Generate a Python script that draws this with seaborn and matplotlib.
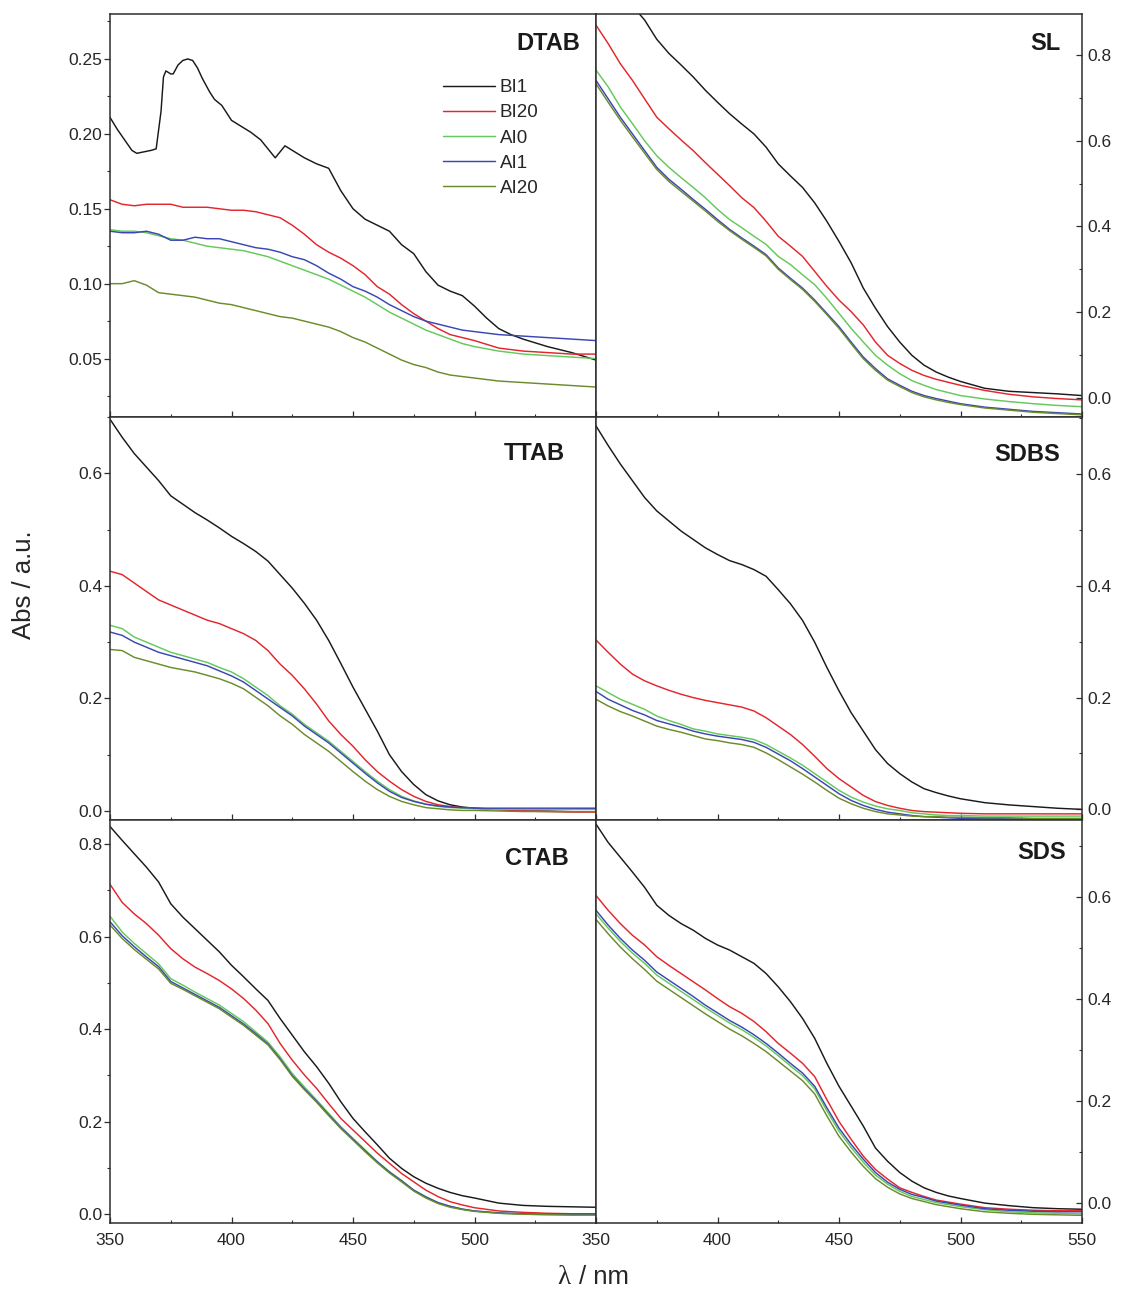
import matplotlib
matplotlib.use("Agg")
import matplotlib.pyplot as plt
from matplotlib.ticker import MultipleLocator
import seaborn as sns
import pandas as pd

# ---------------- data ----------------
WL = [350, 355, 360, 365, 370, 375, 380, 385, 390, 395, 400, 405, 410, 415, 420,
      425, 430, 435, 440, 445, 450, 455, 460, 465, 470, 475, 480, 485, 490, 495,
      500, 510, 520, 530, 540, 550]

SERIES = ["BI1", "BI20", "AI0", "AI1", "AI20"]
COLORS = ["#1a1a1a", "#e3262c", "#63c95a", "#3b46b4", "#6b8c2c"]

# DTAB (BI1 measured on a finer grid)
DTAB_BI1_WL = [350, 353, 356, 359, 361, 364, 367, 369, 371, 372, 373, 375, 376, 378, 380,
               382, 384, 386, 388, 391, 393, 396, 400, 404, 408, 412, 415, 418, 420, 422,
               425, 430, 435, 440, 445, 450, 455, 460, 465, 470, 475, 480, 485, 490, 495,
               500, 505, 510, 515, 520, 530, 540, 550]
DTAB_BI1 = [0.211, 0.203, 0.196, 0.189, 0.187, 0.188, 0.189, 0.190, 0.215, 0.238, 0.242,
            0.240, 0.240, 0.246, 0.249, 0.250, 0.249, 0.244, 0.237, 0.228, 0.223, 0.219,
            0.209, 0.205, 0.201, 0.196, 0.190, 0.184, 0.188, 0.192, 0.189, 0.184, 0.180,
            0.177, 0.162, 0.150, 0.143, 0.139, 0.135, 0.126, 0.120, 0.108, 0.099, 0.095,
            0.092, 0.085, 0.077, 0.070, 0.066, 0.063, 0.058, 0.054, 0.049]
DTAB_BI20 = [0.156, 0.153, 0.152, 0.153, 0.153, 0.153, 0.151, 0.151, 0.151, 0.150, 0.149,
             0.149, 0.148, 0.146, 0.144, 0.139, 0.133, 0.126, 0.121, 0.117, 0.112, 0.106,
             0.098, 0.093, 0.086, 0.080, 0.075, 0.070, 0.066, 0.064, 0.062, 0.057, 0.055,
             0.054, 0.053, 0.053]
DTAB_AI0 = [0.136, 0.135, 0.135, 0.134, 0.132, 0.130, 0.129, 0.127, 0.125, 0.124, 0.123,
            0.122, 0.120, 0.118, 0.115, 0.112, 0.109, 0.106, 0.103, 0.099, 0.095, 0.091,
            0.086, 0.081, 0.077, 0.073, 0.069, 0.066, 0.063, 0.060, 0.058, 0.055, 0.053,
            0.052, 0.051, 0.050]
DTAB_AI1 = [0.135, 0.134, 0.134, 0.135, 0.133, 0.129, 0.129, 0.131, 0.130, 0.130, 0.128,
            0.126, 0.124, 0.123, 0.121, 0.118, 0.116, 0.112, 0.107, 0.103, 0.098, 0.095,
            0.091, 0.086, 0.082, 0.078, 0.075, 0.073, 0.071, 0.069, 0.068, 0.066, 0.065,
            0.064, 0.063, 0.062]
DTAB_AI20 = [0.100, 0.100, 0.102, 0.099, 0.094, 0.093, 0.092, 0.091, 0.089, 0.087, 0.086,
             0.084, 0.082, 0.080, 0.078, 0.077, 0.075, 0.073, 0.071, 0.068, 0.064, 0.061,
             0.057, 0.053, 0.049, 0.046, 0.044, 0.041, 0.039, 0.038, 0.037, 0.035, 0.034,
             0.033, 0.032, 0.031]

SL_BI1 = [1.080, 1.020, 0.965, 0.915, 0.882, 0.837, 0.804, 0.777, 0.749, 0.718, 0.690,
          0.663, 0.639, 0.616, 0.585, 0.546, 0.518, 0.491, 0.455, 0.412, 0.365, 0.315,
          0.256, 0.209, 0.166, 0.130, 0.099, 0.076, 0.060, 0.048, 0.038, 0.022, 0.015,
          0.012, 0.009, 0.005]
SL_BI20 = [0.870, 0.827, 0.780, 0.741, 0.698, 0.655, 0.628, 0.602, 0.577, 0.549, 0.522,
           0.495, 0.467, 0.444, 0.412, 0.377, 0.354, 0.330, 0.295, 0.260, 0.228, 0.201,
           0.170, 0.130, 0.099, 0.080, 0.064, 0.052, 0.043, 0.036, 0.029, 0.017, 0.008,
           0.002, -0.002, -0.005]
SL_AI0 = [0.765, 0.726, 0.679, 0.640, 0.600, 0.565, 0.538, 0.514, 0.491, 0.467, 0.440,
          0.416, 0.397, 0.377, 0.358, 0.330, 0.311, 0.287, 0.264, 0.232, 0.197, 0.162,
          0.130, 0.099, 0.076, 0.056, 0.040, 0.029, 0.019, 0.012, 0.005, -0.003, -0.009,
          -0.014, -0.018, -0.021]
SL_AI1 = [0.741, 0.698, 0.655, 0.616, 0.577, 0.538, 0.510, 0.487, 0.463, 0.440, 0.416,
          0.393, 0.373, 0.354, 0.334, 0.303, 0.279, 0.256, 0.228, 0.197, 0.166, 0.130,
          0.095, 0.068, 0.044, 0.029, 0.015, 0.005, -0.002, -0.008, -0.014, -0.022, -0.027,
          -0.032, -0.035, -0.038]
SL_AI20 = [0.733, 0.690, 0.648, 0.609, 0.571, 0.533, 0.505, 0.482, 0.459, 0.436, 0.412,
           0.390, 0.370, 0.351, 0.331, 0.300, 0.276, 0.253, 0.225, 0.194, 0.162, 0.126,
           0.091, 0.064, 0.041, 0.026, 0.012, 0.002, -0.005, -0.011, -0.016, -0.024, -0.029,
           -0.034, -0.037, -0.040]

TTAB_BI1 = [0.696, 0.664, 0.635, 0.611, 0.587, 0.560, 0.545, 0.530, 0.517, 0.503, 0.488,
            0.475, 0.461, 0.444, 0.420, 0.396, 0.369, 0.339, 0.303, 0.262, 0.220, 0.181,
            0.142, 0.100, 0.070, 0.047, 0.029, 0.018, 0.011, 0.007, 0.005, 0.003, 0.002,
            0.002, 0.003, 0.004]
TTAB_BI20 = [0.426, 0.420, 0.405, 0.390, 0.375, 0.366, 0.357, 0.348, 0.339, 0.333, 0.324,
             0.315, 0.303, 0.285, 0.261, 0.241, 0.217, 0.190, 0.160, 0.136, 0.115, 0.091,
             0.070, 0.053, 0.038, 0.026, 0.017, 0.011, 0.008, 0.006, 0.005, 0.002, 0.000,
             -0.001, -0.002, -0.002]
TTAB_AI0 = [0.330, 0.324, 0.309, 0.300, 0.291, 0.282, 0.276, 0.270, 0.264, 0.255, 0.247,
            0.235, 0.220, 0.205, 0.187, 0.172, 0.154, 0.139, 0.124, 0.106, 0.088, 0.070,
            0.053, 0.038, 0.026, 0.018, 0.012, 0.008, 0.006, 0.005, 0.004, 0.003, 0.003,
            0.003, 0.003, 0.003]
TTAB_AI1 = [0.318, 0.312, 0.300, 0.291, 0.282, 0.276, 0.270, 0.264, 0.258, 0.249, 0.240,
            0.229, 0.214, 0.199, 0.184, 0.169, 0.151, 0.136, 0.121, 0.103, 0.085, 0.067,
            0.050, 0.035, 0.024, 0.017, 0.012, 0.009, 0.007, 0.006, 0.005, 0.005, 0.005,
            0.005, 0.005, 0.005]
TTAB_AI20 = [0.287, 0.285, 0.273, 0.267, 0.261, 0.255, 0.251, 0.247, 0.241, 0.235, 0.227,
             0.217, 0.202, 0.187, 0.169, 0.154, 0.136, 0.121, 0.106, 0.088, 0.070, 0.053,
             0.038, 0.026, 0.017, 0.011, 0.006, 0.004, 0.002, 0.001, 0.001, 0.000, -0.001,
             -0.001, -0.001, -0.001]

SDBS_BI1 = [0.686, 0.651, 0.618, 0.588, 0.558, 0.534, 0.516, 0.498, 0.483, 0.468, 0.456,
            0.445, 0.438, 0.429, 0.417, 0.393, 0.368, 0.338, 0.299, 0.254, 0.212, 0.173,
            0.140, 0.107, 0.082, 0.064, 0.049, 0.037, 0.030, 0.024, 0.019, 0.012, 0.008,
            0.005, 0.002, 0.000]
SDBS_BI20 = [0.303, 0.281, 0.260, 0.242, 0.230, 0.221, 0.213, 0.206, 0.200, 0.195, 0.191,
             0.187, 0.183, 0.176, 0.164, 0.149, 0.134, 0.116, 0.095, 0.073, 0.055, 0.040,
             0.025, 0.014, 0.007, 0.002, -0.002, -0.004, -0.005, -0.006, -0.007, -0.008,
             -0.008, -0.008, -0.008, -0.008]
SDBS_AI0 = [0.221, 0.209, 0.197, 0.188, 0.179, 0.167, 0.159, 0.152, 0.144, 0.140, 0.135,
            0.132, 0.129, 0.125, 0.116, 0.104, 0.092, 0.079, 0.064, 0.049, 0.034, 0.022,
            0.013, 0.006, 0.001, -0.002, -0.006, -0.008, -0.010, -0.011, -0.011, -0.012,
            -0.012, -0.012, -0.012, -0.012]
SDBS_AI1 = [0.211, 0.197, 0.187, 0.177, 0.169, 0.159, 0.153, 0.147, 0.140, 0.135, 0.131,
            0.128, 0.125, 0.120, 0.111, 0.099, 0.087, 0.073, 0.058, 0.043, 0.028, 0.016,
            0.007, 0.000, -0.005, -0.008, -0.011, -0.013, -0.014, -0.015, -0.016, -0.016,
            -0.017, -0.017, -0.017, -0.017]
SDBS_AI20 = [0.197, 0.185, 0.175, 0.167, 0.158, 0.149, 0.143, 0.138, 0.132, 0.126, 0.123,
             0.119, 0.116, 0.111, 0.101, 0.089, 0.076, 0.063, 0.049, 0.034, 0.020, 0.010,
             0.002, -0.004, -0.008, -0.010, -0.012, -0.013, -0.013, -0.014, -0.014, -0.015,
             -0.015, -0.016, -0.016, -0.016]

CTAB_BI1 = [0.838, 0.808, 0.779, 0.750, 0.718, 0.671, 0.642, 0.617, 0.592, 0.567, 0.538,
            0.513, 0.487, 0.462, 0.423, 0.387, 0.351, 0.319, 0.283, 0.243, 0.207, 0.178,
            0.150, 0.121, 0.099, 0.081, 0.067, 0.056, 0.047, 0.040, 0.035, 0.024, 0.019,
            0.017, 0.016, 0.015]
CTAB_BI20 = [0.713, 0.674, 0.649, 0.628, 0.603, 0.574, 0.552, 0.534, 0.520, 0.505, 0.487,
             0.466, 0.441, 0.412, 0.369, 0.333, 0.301, 0.272, 0.239, 0.207, 0.182, 0.157,
             0.132, 0.110, 0.088, 0.070, 0.052, 0.038, 0.027, 0.020, 0.014, 0.007, 0.004,
             0.002, 0.001, 0.001]
CTAB_AI0 = [0.644, 0.610, 0.585, 0.563, 0.541, 0.509, 0.495, 0.480, 0.466, 0.452, 0.434,
            0.416, 0.394, 0.372, 0.340, 0.304, 0.275, 0.247, 0.218, 0.189, 0.164, 0.139,
            0.114, 0.092, 0.073, 0.052, 0.038, 0.025, 0.017, 0.011, 0.007, 0.002, 0.000,
            -0.001, -0.001, -0.001]
CTAB_AI1 = [0.632, 0.602, 0.578, 0.556, 0.535, 0.503, 0.489, 0.475, 0.461, 0.447, 0.429,
            0.411, 0.390, 0.368, 0.336, 0.300, 0.271, 0.244, 0.215, 0.187, 0.162, 0.137,
            0.113, 0.091, 0.072, 0.052, 0.037, 0.025, 0.017, 0.011, 0.007, 0.003, 0.001,
            0.000, 0.000, 0.000]
CTAB_AI20 = [0.625, 0.596, 0.572, 0.551, 0.530, 0.499, 0.486, 0.472, 0.458, 0.444, 0.426,
             0.408, 0.387, 0.366, 0.334, 0.298, 0.269, 0.242, 0.213, 0.185, 0.160, 0.135,
             0.111, 0.089, 0.070, 0.050, 0.035, 0.023, 0.015, 0.010, 0.006, 0.002, 0.000,
             -0.001, -0.002, -0.002]

SDS_BI1 = [0.742, 0.706, 0.677, 0.648, 0.618, 0.583, 0.563, 0.547, 0.534, 0.518, 0.505,
           0.495, 0.482, 0.469, 0.449, 0.423, 0.394, 0.361, 0.322, 0.273, 0.228, 0.189,
           0.150, 0.107, 0.081, 0.059, 0.042, 0.029, 0.020, 0.013, 0.008, -0.001, -0.006,
           -0.010, -0.012, -0.013]
SDS_BI20 = [0.602, 0.573, 0.547, 0.524, 0.505, 0.482, 0.465, 0.449, 0.433, 0.417, 0.400,
            0.384, 0.371, 0.355, 0.335, 0.312, 0.293, 0.273, 0.247, 0.202, 0.159, 0.124,
            0.091, 0.065, 0.046, 0.029, 0.020, 0.012, 0.005, 0.001, -0.003, -0.010, -0.013,
            -0.015, -0.016, -0.016]
SDS_AI0 = [0.566, 0.538, 0.512, 0.489, 0.469, 0.446, 0.430, 0.414, 0.398, 0.382, 0.367,
           0.352, 0.339, 0.324, 0.307, 0.288, 0.268, 0.249, 0.223, 0.180, 0.140, 0.108,
           0.079, 0.054, 0.036, 0.022, 0.012, 0.006, 0.000, -0.004, -0.008, -0.014, -0.018,
           -0.020, -0.021, -0.022]
SDS_AI1 = [0.573, 0.544, 0.518, 0.495, 0.475, 0.452, 0.436, 0.420, 0.404, 0.387, 0.372,
           0.357, 0.344, 0.329, 0.312, 0.293, 0.273, 0.254, 0.228, 0.186, 0.146, 0.114,
           0.085, 0.059, 0.040, 0.026, 0.016, 0.010, 0.003, -0.001, -0.005, -0.012, -0.015,
           -0.017, -0.018, -0.018]
SDS_AI20 = [0.555, 0.527, 0.501, 0.478, 0.457, 0.434, 0.418, 0.402, 0.386, 0.370, 0.355,
            0.340, 0.327, 0.312, 0.296, 0.277, 0.258, 0.239, 0.213, 0.170, 0.130, 0.099,
            0.071, 0.047, 0.030, 0.017, 0.008, 0.002, -0.004, -0.008, -0.012, -0.018, -0.021,
            -0.023, -0.024, -0.025]

PANELS = ["DTAB", "SL", "TTAB", "SDBS", "CTAB", "SDS"]
YLIMS = {"DTAB": (0.011, 0.280), "SL": (-0.045, 0.896), "TTAB": (-0.016, 0.700),
         "SDBS": (-0.019, 0.702), "CTAB": (-0.019, 0.852), "SDS": (-0.040, 0.750)}
YMAJOR = {"DTAB": 0.05, "SL": 0.2, "TTAB": 0.2, "SDBS": 0.2, "CTAB": 0.2, "SDS": 0.2}
LABEL_POS = {"DTAB": (0.967, 0.927), "SL": (0.955, 0.927), "TTAB": (0.935, 0.910),
             "SDBS": (0.955, 0.908), "CTAB": (0.943, 0.905), "SDS": (0.967, 0.919)}


def panel_frame(name):
    data = {
        "DTAB": [(DTAB_BI1_WL, DTAB_BI1), (WL, DTAB_BI20), (WL, DTAB_AI0), (WL, DTAB_AI1), (WL, DTAB_AI20)],
        "SL": [(WL, SL_BI1), (WL, SL_BI20), (WL, SL_AI0), (WL, SL_AI1), (WL, SL_AI20)],
        "TTAB": [(WL, TTAB_BI1), (WL, TTAB_BI20), (WL, TTAB_AI0), (WL, TTAB_AI1), (WL, TTAB_AI20)],
        "SDBS": [(WL, SDBS_BI1), (WL, SDBS_BI20), (WL, SDBS_AI0), (WL, SDBS_AI1), (WL, SDBS_AI20)],
        "CTAB": [(WL, CTAB_BI1), (WL, CTAB_BI20), (WL, CTAB_AI0), (WL, CTAB_AI1), (WL, CTAB_AI20)],
        "SDS": [(WL, SDS_BI1), (WL, SDS_BI20), (WL, SDS_AI0), (WL, SDS_AI1), (WL, SDS_AI20)],
    }[name]
    rows = []
    for s, (xs, ys) in zip(SERIES, data):
        for x, y in zip(xs, ys):
            rows.append({"wl": x, "abs": y, "series": s})
    return pd.DataFrame(rows)


# ---------------- plotting ----------------
sns.set_style("ticks")
plt.rcParams["font.family"] = ["Liberation Sans", "DejaVu Sans"]

W, H = 1121, 1292
fig = plt.figure(figsize=(W / 100, H / 100), dpi=100)

left_x, right_x, col_w = 110, 596, 486
row_tops = [14, 417, 820]
row_h = 403
spine_col = "#2e2e2e"
txt_col = "#262626"

for i, name in enumerate(PANELS):
    r, c = divmod(i, 2)
    x0 = left_x if c == 0 else right_x
    top = row_tops[r]
    ax = fig.add_axes([x0 / W, (H - top - row_h) / H, col_w / W, row_h / H])
    df = panel_frame(name)
    sns.lineplot(data=df, x="wl", y="abs", hue="series", hue_order=SERIES,
                 palette=COLORS, linewidth=1.05, ax=ax, legend=(name == "DTAB"),
                 estimator=None, sort=False)
    ax.set_xlim(350, 550)
    ax.set_ylim(*YLIMS[name])
    ax.xaxis.set_major_locator(MultipleLocator(50))
    ax.xaxis.set_minor_locator(MultipleLocator(25))
    ax.yaxis.set_major_locator(MultipleLocator(YMAJOR[name]))
    ax.yaxis.set_minor_locator(MultipleLocator(YMAJOR[name] / 2))
    ax.set_xlabel("")
    ax.set_ylabel("")
    for sp in ax.spines.values():
        sp.set_visible(True)
        sp.set_color(spine_col)
        sp.set_linewidth(1.1)

    ax.tick_params(axis="x", which="both", direction="in", top=False, bottom=True,
                   color=spine_col, labelsize=12.5, pad=7, labelcolor=txt_col)
    ax.tick_params(axis="x", which="major", length=4.5, width=0.9)
    ax.tick_params(axis="x", which="minor", length=2.5, width=0.8)
    if r < 2:
        ax.tick_params(axis="x", labelbottom=False)

    if c == 0:
        ax.tick_params(axis="y", which="both", direction="out", left=True, right=False,
                       labelleft=True, labelright=False, color=spine_col,
                       labelsize=12.5, pad=1.5, labelcolor=txt_col)
    else:
        ax.yaxis.tick_right()
        ax.tick_params(axis="y", which="both", direction="in", left=False, right=True,
                       labelleft=False, labelright=True, color=spine_col,
                       labelsize=12.5, pad=4, labelcolor=txt_col)
    ax.tick_params(axis="y", which="major", length=4, width=0.9)
    ax.tick_params(axis="y", which="minor", length=2.5, width=0.8)

    if r == 2 and c == 0:
        ticks = ax.get_xticks()
        ax.set_xticks(ticks)
        ax.set_xticklabels(["" if t >= 550 else f"{int(t)}" for t in ticks])
        ax.set_xlim(350, 550)

    lx, ly = LABEL_POS[name]
    ax.text(lx, ly, name, transform=ax.transAxes, ha="right", va="center",
            fontsize=17, fontweight="bold", color="#1a1a1a")

    if name == "DTAB":
        leg = ax.legend(loc="upper left", bbox_to_anchor=(0.669, 0.857), frameon=False,
                        fontsize=13.5, handlelength=2.77, handletextpad=0.27,
                        labelspacing=0.43, borderaxespad=0.0)
        for t in leg.get_texts():
            t.set_color(txt_col)
        for ln in leg.get_lines():
            ln.set_linewidth(1.05)

# axis labels
fig.text(24 / W, 1 - 585 / H, "Abs / a.u.", rotation=90, ha="center", va="center",
         fontsize=18.5, color=txt_col)
fig.text(570 / W, 1 - 1277 / H, "λ", ha="right", va="center", fontsize=19.5,
         family=["Liberation Serif", "DejaVu Serif"], color=txt_col)
fig.text(579 / W, 1 - 1277 / H, "/ nm", ha="left", va="center", fontsize=18.5,
         color=txt_col)

fig.savefig("out.png", dpi=100)
